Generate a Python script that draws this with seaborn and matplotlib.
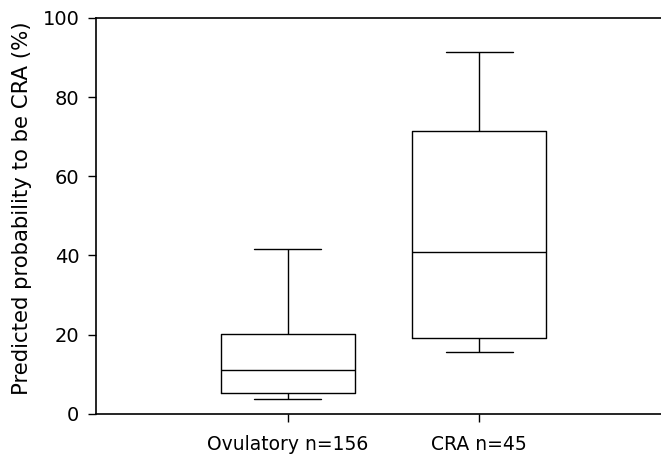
import matplotlib
matplotlib.use("Agg")
import matplotlib.pyplot as plt
import seaborn as sns
import pandas as pd

# Five-number summaries (min, Q1, median, Q3, max) of predicted probability, %
groups = ["Ovulatory n=156", "CRA n=45"]
ovulatory_summary = [3.7, 5.3, 11.1, 20.1, 41.7]
cra_summary = [15.6, 19.2, 40.9, 71.4, 91.3]
y_ticks = [0, 20, 40, 60, 80, 100]

df = pd.DataFrame({
    "group": [groups[0]] * len(ovulatory_summary) + [groups[1]] * len(cra_summary),
    "prob": ovulatory_summary + cra_summary,
})

sns.set_style("ticks")
plt.rcParams["font.family"] = ["DejaVu Sans"]
plt.rcParams["text.color"] = "black"
plt.rcParams["axes.labelcolor"] = "black"

fig = plt.figure(figsize=(6.61, 4.54), dpi=100)
ax = fig.add_axes([0.1452, 0.0888, 0.8700, 0.8716])

line = dict(color="black", linewidth=1.0)
sns.boxplot(
    data=df, x="group", y="prob", order=groups, ax=ax,
    whis=(0, 100), width=0.7, fill=False, color="black", linewidth=1.0,
    boxprops=line, medianprops=line, whiskerprops=line, capprops=line,
    showfliers=False,
)
for p in ax.patches:
    p.set_facecolor("white")

ax.set_xlim(-1, 2)
ax.set_ylim(0, 100)
ax.set_yticks(y_ticks)
ax.set_xlabel("")
ax.set_ylabel("Predicted probability to be CRA (%)", fontsize=15.3, color="black")
ax.yaxis.set_label_coords(-0.112, 0.52)
ax.tick_params(axis="both", direction="out", length=6, width=1.0,
               colors="black")
ax.tick_params(axis="y", pad=6, labelsize=14)
ax.tick_params(axis="x", pad=9, labelsize=13.5)

for side in ["left", "bottom", "top"]:
    ax.spines[side].set_visible(True)
    ax.spines[side].set_color("black")
    ax.spines[side].set_linewidth(1.2)
ax.spines["right"].set_visible(False)

fig.savefig("out.png", dpi=100)
